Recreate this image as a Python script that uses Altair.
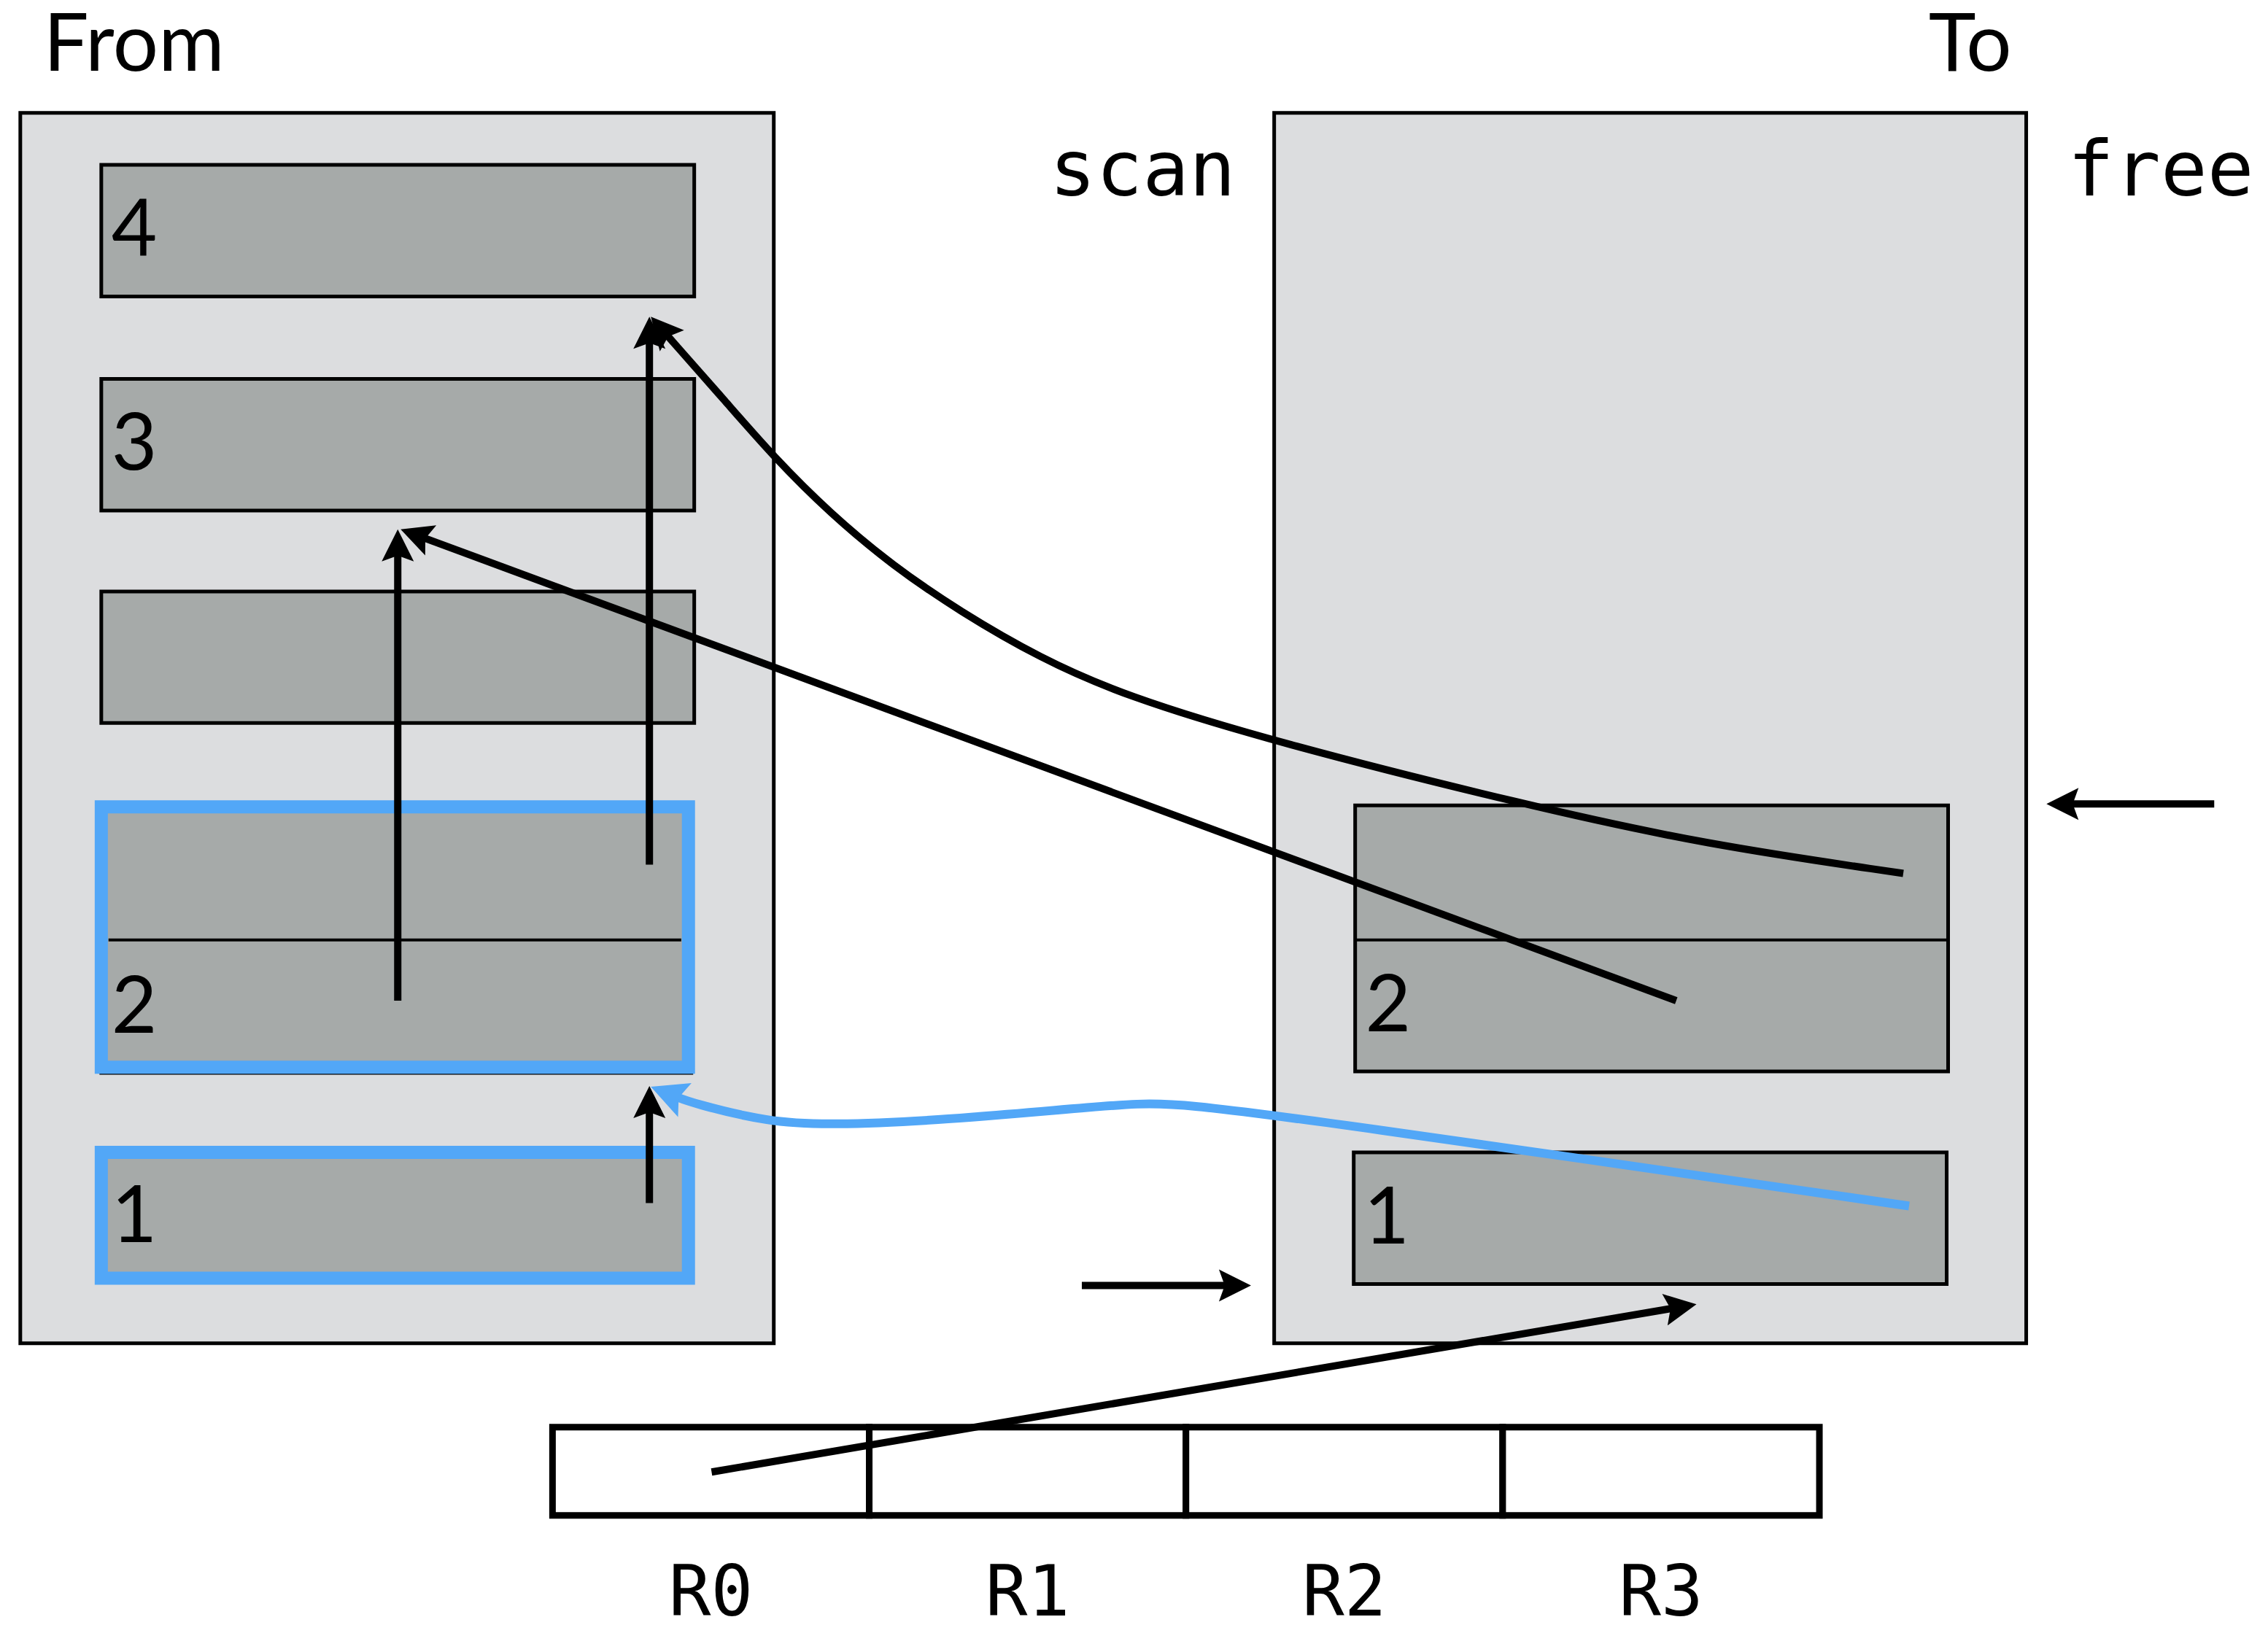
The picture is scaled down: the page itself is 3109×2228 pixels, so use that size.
import math
import altair as alt
import pandas as pd

# ---------------- data (diagram units) ----------------
# memory spaces
space_names = ["From", "To"]
space_left = [14, 881]
space_right = [535, 1401]
space_top = [78, 78]
space_bottom = [929, 929]
title_x = [30, 1391]
title_y = [49, 49]

# heap objects
obj_space = ["From", "From", "From", "From", "From", "To", "To"]
obj_label = ["4", "3", "", "2", "1", "2", "1"]
obj_left = [70, 70, 70, 70, 70, 937, 936]
obj_right = [480, 480, 480, 478, 478, 1347, 1346]
obj_top = [114, 262, 409, 557, 796, 557, 797]
obj_bottom = [205, 353, 500, 742, 887, 741, 888]

# field dividers inside two-field objects
split_left = [75, 937]
split_right = [471, 1347]
split_y = [650, 650]

# highlighted (already copied) objects
hl_left = [70, 70]
hl_right = [476, 476]
hl_top = [558, 797]
hl_bottom = [738, 884]

# scan / free pointers
ptr_names = ["scan", "free"]
ptr_label_x = [790, 1494]
ptr_label_y = [135, 135]
ptr_x0 = [748, 1531]
ptr_y0 = [889, 556]
ptr_x1 = [865, 1415]
ptr_y1 = [889, 556]

# registers
reg_names = ["R0", "R1", "R2", "R3"]
reg_left = [382, 601, 820, 1039]
reg_right = [601, 820, 1039, 1258]
reg_top = [987, 987, 987, 987]
reg_bottom = [1048, 1048, 1048, 1048]
reg_label_y = [1117, 1117, 1117, 1117]

# straight reference arrows (last point = arrow tip)
straight_ids = ["a", "b", "c", "d", "reg"]
straight_xs = [[275, 275], [449, 449], [449, 449], [1159, 277], [492, 1173]]
straight_ys = [[692, 366], [598, 219], [832, 751], [692, 366], [1018, 902]]

# curved reference arrows (last point = arrow tip)
curve_ids = ["e", "blue"]
curve_colors = ["#000000", "#52a7f7"]
curve_width = [10, 12]
curve_head = [44, 50]
curve_xs = [
    [1316, 1179, 1056, 881, 777, 719, 664, 617, 574, 535, 502, 464, 450],
    [1320, 898, 820, 791, 733, 646, 574, 531, 479, 450],
]
curve_ys = [
    [604, 584, 557, 513, 481, 455, 423, 391, 355, 316, 278, 235, 219],
    [834, 773, 764, 762.5, 767.5, 775, 778, 776, 763, 751.5],
]

# ---------------- build tables ----------------
S = 1.9825  # page pixels per diagram unit
W, H = 3093, 2212
xs = alt.Scale(domain=[4, 4 + W / S], nice=False, zero=False)
ys = alt.Scale(domain=[4, 4 + H / S], nice=False, zero=False, reverse=True)

spaces = pd.DataFrame(dict(name=space_names, x=space_left, x2=space_right,
                           y=space_top, y2=space_bottom, tx=title_x, ty=title_y))
objs = pd.DataFrame(dict(space=obj_space, label=obj_label, x=obj_left, x2=obj_right,
                         y=obj_top, y2=obj_bottom))
objs["lx"] = objs["x"] + 7
objs["ly"] = objs["y2"] - 28
splits = pd.DataFrame(dict(x=split_left, x2=split_right, y=split_y))
hls = pd.DataFrame(dict(x=hl_left, x2=hl_right, y=hl_top, y2=hl_bottom))
regs = pd.DataFrame(dict(name=reg_names, x=reg_left, x2=reg_right, y=reg_top,
                         y2=reg_bottom, ly=reg_label_y))
regs["lx"] = (regs["x"] + regs["x2"]) / 2
ptr_text = pd.DataFrame(dict(name=ptr_names, x=ptr_label_x, y=ptr_label_y))

arrows = []  # (id, kind, color, width, head, xs, ys)
for i, aid in enumerate(straight_ids):
    arrows.append((aid, "straight", "#000000", 10, 44, straight_xs[i], straight_ys[i]))
for j, nm in enumerate(ptr_names):
    arrows.append((nm, "straight", "#000000", 10, 44, [ptr_x0[j], ptr_x1[j]], [ptr_y0[j], ptr_y1[j]]))
for i, aid in enumerate(curve_ids):
    arrows.append((aid, "curve", curve_colors[i], curve_width[i], curve_head[i],
                   curve_xs[i], curve_ys[i]))

line_rows, head_rows = [], []
for aid, kind, col, w, hl, ax, ay in arrows:
    tx, ty = ax[-1], ay[-1]
    dx, dy = tx - ax[-2], ty - ay[-2]
    d = math.hypot(dx, dy)
    back = 0.7 * hl / S
    ex, ey = tx - dx / d * back, ty - dy / d * back
    pts = list(zip(ax[:-1], ay[:-1])) + [(ex, ey)]
    for k, (px, py) in enumerate(pts):
        line_rows.append(dict(id=aid, kind=kind, i=k, x=px, y=py, color=col, w=w))
    ang = math.degrees(math.atan2(dx, -dy)) % 360
    head_rows.append(dict(id=aid, x=tx, y=ty, angle=ang, color=col, size=(2 * hl) ** 2))
lines = pd.DataFrame(line_rows)
heads = pd.DataFrame(head_rows)

X = lambda f="x": alt.X(f"{f}:Q", scale=xs, axis=None)
Y = lambda f="y": alt.Y(f"{f}:Q", scale=ys, axis=None)

space_layer = alt.Chart(spaces).mark_rect(fill="#dcdddf", stroke="#000000", strokeWidth=5).encode(
    x=X(), x2="x2:Q", y=Y(), y2="y2:Q")
obj_layer = alt.Chart(objs).mark_rect(fill="#a6aaa9", stroke="#000000", strokeWidth=5).encode(
    x=X(), x2="x2:Q", y=Y(), y2="y2:Q")
split_layer = alt.Chart(splits).mark_rule(stroke="#000000", strokeWidth=4).encode(
    x=X(), x2="x2:Q", y=Y())
hl_layer = alt.Chart(hls).mark_rect(fillOpacity=0, stroke="#52a7f7", strokeWidth=18).encode(
    x=X(), x2="x2:Q", y=Y(), y2="y2:Q")
reg_layer = alt.Chart(regs).mark_rect(fill="#ffffff", stroke="#000000", strokeWidth=9).encode(
    x=X(), x2="x2:Q", y=Y(), y2="y2:Q")
straight_layer = alt.Chart(lines[lines.kind == "straight"]).mark_line(
    interpolate="linear", strokeCap="butt").encode(
    x=X(), y=Y(), detail="id:N", order="i:Q",
    color=alt.Color("color:N", scale=None),
    strokeWidth=alt.StrokeWidth("w:Q", scale=None))
curve_layer = alt.Chart(lines[lines.kind == "curve"]).mark_line(
    interpolate="basis", strokeCap="butt").encode(
    x=X(), y=Y(), detail="id:N", order="i:Q",
    color=alt.Color("color:N", scale=None),
    strokeWidth=alt.StrokeWidth("w:Q", scale=None))
head_layer = alt.Chart(heads).mark_point(
    shape="M0,0L0.5,1L0,0.82L-0.5,1Z", filled=True, opacity=1, strokeWidth=0).encode(
    x=X(), y=Y(), angle=alt.Angle("angle:Q", scale=None),
    color=alt.Color("color:N", scale=None),
    size=alt.Size("size:Q", scale=None))

title_left = alt.Chart(spaces[spaces.name == "From"]).mark_text(
    font="Lato", fontSize=110, align="left", baseline="alphabetic", color="#000000").encode(
    x=X("tx"), y=Y("ty"), text="name:N")
title_right = alt.Chart(spaces[spaces.name == "To"]).mark_text(
    font="Lato", fontSize=110, align="right", baseline="alphabetic", color="#000000").encode(
    x=X("tx"), y=Y("ty"), text="name:N")
obj_text = alt.Chart(objs[objs.label != ""]).mark_text(
    font="Lato", fontSize=108, align="left", baseline="alphabetic", color="#000000").encode(
    x=X("lx"), y=Y("ly"), text="label:N")
ptr_layer = alt.Chart(ptr_text).mark_text(
    font="DejaVu Sans Mono", fontSize=106, align="center", baseline="alphabetic",
    color="#000000").encode(x=X(), y=Y(), text="name:N")
reg_text = alt.Chart(regs).mark_text(
    font="DejaVu Sans Mono", fontSize=96, align="center", baseline="alphabetic",
    color="#000000").encode(x=X("lx"), y=Y("ly"), text="name:N")

chart = alt.layer(
    space_layer, obj_layer, split_layer, hl_layer, reg_layer,
    straight_layer, curve_layer, head_layer,
    title_left, title_right, obj_text, ptr_layer, reg_text,
).properties(
    width=W, height=H, padding=0,
    autosize=alt.AutoSizeParams(type="none"),
    background="#ffffff",
).configure_view(stroke=None)

chart.save("out.html", embed_options={"renderer": "svg", "actions": False})
